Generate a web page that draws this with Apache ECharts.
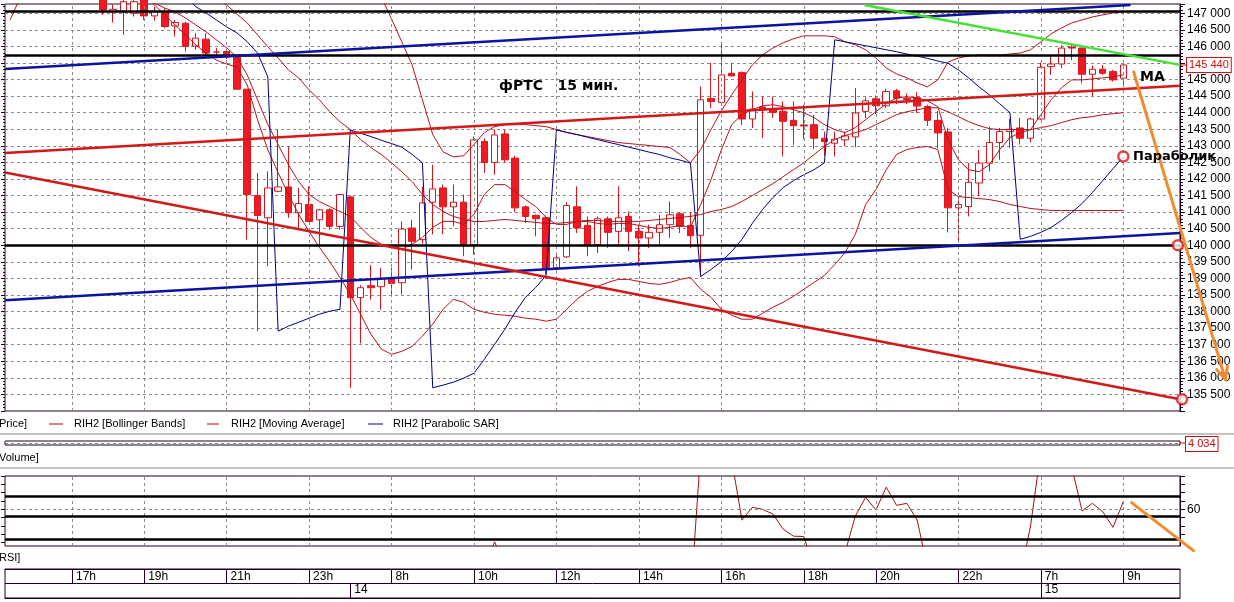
<!DOCTYPE html>
<html><head><meta charset="utf-8">
<script src="https://cdn.jsdelivr.net/npm/echarts@6/dist/echarts.min.js"></script>
<style>html,body{margin:0;padding:0;background:#fff;overflow:hidden}#c{width:1234px;height:602px}</style>
</head><body><div id="c"></div><script>
// ---------- data ----------
const N = 114; // 15-minute slots shown on the time axis
const hourLabels = {6:'17h',13:'19h',21:'21h',29:'23h',37:'8h',45:'10h',53:'12h',61:'14h',69:'16h',77:'18h',84:'20h',92:'22h',100:'7h',108:'9h'};
const dayLabels = {33:'14',100:'15'};

// candles [open, close, low, high], first at slot 9
const candleStart = 9;
const candles = [
[147400,147100,146950,147500],[147050,147120,146720,147250],[147050,147350,146350,147450],[147000,147350,146900,147450],
[147450,146920,146800,147500],[146920,147050,146780,147200],[147020,146600,146550,147150],[146620,146720,146300,146800],
[146700,146000,145850,146750],[146010,146250,145900,146400],[146220,145800,145750,146400],[145830,145830,145750,145950],
[145850,145680,145620,145900],[145690,144710,144700,145720],[144710,141530,140170,144720],[141500,140900,137410,142180],
[140830,141730,139370,142230],[141630,141760,141600,143480],[141760,140980,140830,142980],[140980,141260,140470,141730],
[141230,140720,140700,141780],[140770,141070,139970,141100],[141070,140570,140470,141120],[140570,141530,140470,141550],
[141460,138420,135700,141500],[138420,138720,137040,138800],[138780,138720,138360,139400],[138750,139000,138060,139320],
[139000,138850,138470,139320],[138870,140490,138520,140720],[140520,140120,139270,140770],[140170,141280,140050,141760],
[141300,141700,140330,142430],[141730,141160,140330,141830],[141160,141300,140570,141830],[141300,140020,139670,141530],
[140020,143180,139720,143280],[143130,142500,142180,143230],[142500,143330,142130,143490],[143360,142580,142500,143480],
[142630,141130,141000,142700],[141160,140870,140670,141200],[140900,140800,140270,140930],[140830,139270,139120,140900],
[139320,139620,139150,139700],[139650,141200,139620,141300],[141160,140520,140370,141780],[140600,140020,139670,140870],
[140020,140800,139770,140870],[140800,140390,139920,140870],[140420,140830,139970,141780],[140870,140420,139820,141020],
[140420,140220,139370,140620],[140220,140390,139920,140620],[140390,140620,140020,140920],[140620,140920,140220,141320],
[140950,140570,140370,141000],[140600,140290,139920,141000],[140300,144390,139050,144790],[144430,144340,144140,145500],
[144310,145140,144210,146140],[145190,145110,145100,145500],[145210,143810,143630,145250],[143810,144110,143540,144640],
[144170,144090,143240,144490],[144120,144010,143840,144490],[144040,143740,142680,144340],[143770,143610,143030,144340],
[143630,143600,143210,144240],[143640,143230,142900,143940],[143230,143130,142700,143430],[143080,143200,142680,143430],
[143180,143300,142990,143430],[143270,143990,142960,144740],[144040,144360,143830,144460],[144420,144210,143960,144520],
[144210,144640,144140,144720],[144660,144440,144260,144720],[144440,144400,144260,144580],[144450,144200,143990,144620],
[144190,143770,143600,144240],[143770,143390,142930,144050],[143420,141130,140390,143540],[141130,141230,140120,141480],
[141170,141900,140870,142480],[141880,142480,141480,142880],[142480,143100,142230,143580],[143100,143430,142580,143540],
[143430,143500,142940,143810],[143540,143230,143040,143840],[143230,143810,143110,143850],[143810,145370,143780,145510],
[145390,145470,145140,145740],[145470,145950,145350,146040],[145980,145950,145590,146040],[145950,145160,144890,146010],
[145160,145310,144510,145420],[145310,145190,145140,145440],[145240,144990,144940,145290],[145040,145440,144820,145470]
];

// Bollinger Bands (upper / middle / lower) and Moving Average
const bbUpStart = 36;
const bbUp = [147500,146830,146140,145440,144390,143340,142820,142670,142700,143040,143400,143580,143640,143640,143640,143610,143580,143490,143400,143340,143280,143220,143160,143100,143070,143040,143010,142980,142950,142740,142490,142890,143490,144060,144540,144990,145440,145740,145950,146110,146230,146320,146320,146320,146290,146140,146050,145900,145650,145350,145170,145050,144900,144780,144990,145530,145650,145710,145740,145740,145740,145770,145800,145900,146140,146380,146560,146710,146800,146890,146950,147010,147040];
const bbMidStart = 18;
const bbMid = [147700,147600,147450,147250,146980,146710,146350,145990,145650,145290,145050,144690,144390,144030,143730,143490,143190,142950,142740,142490,142220,141920,141530,141230,141020,140870,140780,140720,140720,140750,140780,140750,140720,140690,140660,140660,140690,140720,140750,140750,140720,140720,140720,140720,140750,140780,140810,140840,140870,140930,141020,141080,141170,141320,141500,141680,141860,142070,142280,142490,142740,142980,143190,143310,143400,143490,143640,143790,143940,144030,144090,144150,144150,144030,143880,143730,143610,143520,143490,143490,143490,143490,143550,143610,143700,143790,143850,143880,143940,143970,144000];
const bbLowStart = 0;
const bbLow = [146800,147500,null,null,null,null,null,null,null,null,null,null,null,147500,147250,146950,146650,146350,146050,145800,145590,145470,145380,144840,143790,142880,142190,141530,140930,140420,139940,139510,139030,138520,137920,137320,136870,136710,136800,136950,137260,137620,138070,138370,138280,138070,137980,137920,137890,137860,137800,137770,137710,137770,138070,138370,138610,138760,138880,138970,138970,138910,138850,138820,138880,138970,139030,138670,138430,138070,137890,137770,137770,137950,138130,138280,138460,138670,138880,139090,139420,139780,140330,141230,141680,142280,142740,142890,142950,142980,142890,141680,141470,141440,141410,141380,141320,141230,141170,141110,141080,141050,141050,141050,141050,141050,141050,141050,141050];
const maStart = 13;
const ma = [147400,147310,147160,147040,146860,146650,146440,146200,145960,145680,145140,144390,143640,143040,142430,141920,141530,141320,141170,141020,140870,140540,140240,140030,139940,139880,140030,140240,140540,140720,140720,140630,140930,141530,141830,141830,141620,141380,141170,140840,140630,140630,140720,140720,140660,140630,140660,140660,140600,140540,140510,140540,140600,140540,141230,141980,142880,143640,143940,144090,144210,144240,144180,144090,144000,143850,143640,143490,143400,143550,143790,144030,144270,144450,144480,144450,144360,144180,143190,142580,142280,142220,142430,142880,143250,143400,143490,143940,144390,144750,144990,144990,145020,145050,145080,145140];
// Parabolic SAR
const sarStart = 17;
const sar = [147550,147200,147010,146800,146590,146410,146140,145800,145080,137410,137560,137680,137800,137920,138010,138070,143480,143380,143280,143170,143070,142960,142740,142490,135700,135780,135870,135990,136140,136560,137010,137470,137980,138430,138730,139090,143480,143410,143340,143260,143190,143110,143040,142960,142890,142810,142740,142640,142570,142480,139060,139270,139510,139810,140180,140660,141080,141440,141740,141950,142130,142280,142490,146200,146140,146080,146020,145960,145900,145840,145770,145710,145640,145560,145490,145290,145050,144780,144540,144270,144000,140180,140270,140390,140540,140750,140990,141260,141590,141950,142310,142670];
// RSI (panel only shows 38..80)
const rsi = [30,28,26,27,25,24,26,29,27,25,24,22,21,23,22,20,19,18,20,17,16,15,12,10,14,18,21,19,22,20,23,15,17,19,21,24,26,30,28,32,31,29,27,33,30,31,25,
40.5,26,22,18,16,12,14,21,19,17,20,18,21,19,16,18,20,22,19,
5,95,92,95,90,53.5,61.2,60,57.2,48.1,43.9,43.7,25,28,30,34,56,67.2,59.6,73.3,62.4,63.6,53.6,25,
22,12,15,20,24,27,30,28,20,50,95,90,88,85.6,59,63.6,58.6,49.2,64.6];
const rsiLevels = [67.6, 55.6, 42.0];
const rsiMid = 60;

// hand-drawn levels and trend lines (slot, price)
const blackLevels = [147050, 145720, 140000];
const blueUpper = [[-0.5,145322],[108.7,147250]];
const blueLower = [[-0.5,138344],[113.5,140374]];
const redUpper  = [[-0.5,142783],[113.5,144810]];
const redLower  = [[-0.5,142199],[113.5,135353]];
const greenLine = [[82.9,147250],[113.5,145443]];
const orangeMain = [[109,145230],[117.9,135960]];
const orangeRsi = [[108.8,64],[114.8,35.2]];
const rings = [[108,142680],[113.3,140000],[113.7,135353]];
const lastPrice = 145440;
const lastVolume = '4 034';

// ---------- helpers ----------
const cats = Array.from({length:N}, (_, i) => String(i));
function pad(start, arr){ const out = new Array(N).fill('-'); arr.forEach((v,k)=>{ if(start+k<N) out[start+k] = (v==null?'-':v); }); return out; }
const candleData = new Array(N).fill(null).map(()=>['-','-','-','-']);
candles.forEach((c,k)=>{ candleData[candleStart+k] = c; });
const fmtPrice = v => { if (v % 500 !== 0 || v <= 135000) return ''; const t = Math.floor(v/1000), r = v % 1000; return t + ' ' + String(r).padStart(3,'0'); };
const FR = '#200020';
const RED = '#b5121b';
const ORANGE = '#f28a2e';
const vGrid = Object.keys(hourLabels).map(k => ({xAxis: String(k)}));
const dashed = {color:'#8a8a8a', width:1, type:[3,3]};
const noZero = {onZero:false, show:false};

const chart = echarts.init(document.getElementById('c'));
const priceAxisBase = {type:'value', gridIndex:0, min:135000, max:147280, interval:500};
const option = {
  animation:false, backgroundColor:'#fff',
  grid:[
    {left:5, right:54, top:4, height:407, show:true, borderColor:FR, borderWidth:1},
    {left:5, right:54, top:441, height:4, show:true, borderColor:FR, borderWidth:1},
    {left:5, right:54, top:476, height:70, show:true, borderColor:FR, borderWidth:1},
    {left:5, right:54, top:569, height:29, show:true, borderColor:FR, borderWidth:1}
  ],
  xAxis:[
    {type:'category', gridIndex:0, data:cats, boundaryGap:true, axisLine:noZero, axisTick:{show:false}, axisLabel:{show:false}, splitLine:{show:false}},
    {type:'value', gridIndex:0, min:-0.5, max:N-0.5, show:false, axisLine:noZero},
    {type:'category', gridIndex:1, data:cats, show:false, axisLine:noZero},
    {type:'category', gridIndex:2, data:cats, boundaryGap:true, axisLine:noZero, axisTick:{show:false}, axisLabel:{show:false}, splitLine:{show:false}},
    {type:'value', gridIndex:2, min:-0.5, max:N-0.5, show:false, axisLine:noZero},
    {type:'category', gridIndex:3, data:cats, position:'top', boundaryGap:true,
      axisLine:{show:true, onZero:false, lineStyle:{color:FR}},
      axisTick:{show:true, inside:true, length:14, alignWithLabel:true, interval:(i)=>hourLabels[i]!==undefined, lineStyle:{color:FR}},
      axisLabel:{show:true, inside:true, interval:(i)=>hourLabels[i]!==undefined, formatter:(v,i)=>hourLabels[i]||'', align:'left', padding:[0,0,0,4], margin:2, color:'#000', fontSize:12, fontFamily:'Liberation Sans'}},
    {type:'category', gridIndex:3, data:cats, position:'bottom', boundaryGap:true,
      axisLine:{show:true, onZero:false, lineStyle:{color:FR}},
      axisTick:{show:true, inside:true, length:15, alignWithLabel:true, interval:(i)=>dayLabels[i]!==undefined, lineStyle:{color:FR}},
      axisLabel:{show:true, inside:true, interval:(i)=>dayLabels[i]!==undefined, formatter:(v,i)=>dayLabels[i]||'', align:'left', padding:[0,0,0,4], margin:2, color:'#000', fontSize:12, fontFamily:'Liberation Sans'}}
  ],
  yAxis:[
    Object.assign({}, priceAxisBase, {position:'right',
      axisLine:{show:true, onZero:false, lineStyle:{color:FR}}, axisTick:{show:true, length:5, lineStyle:{color:FR}},
      minorTick:{show:true, splitNumber:5, length:3, lineStyle:{color:FR}},
      axisLabel:{formatter:fmtPrice, color:'#000', fontSize:12, fontFamily:'Liberation Sans', margin:7, showMaxLabel:false},
      splitLine:{show:true, lineStyle:dashed}}),
    {type:'value', gridIndex:1, min:0, max:2, interval:1, axisLine:noZero, axisTick:{show:false}, axisLabel:{show:false}, splitLine:{show:true, lineStyle:dashed}},
    {type:'value', gridIndex:2, position:'right', min:38, max:80,
      axisLine:{show:true, onZero:false, lineStyle:{color:FR}},
      axisTick:{show:true, length:5, customValues:[40,45,50,55,60,65,70,75,80], lineStyle:{color:FR}},
      axisLabel:{show:true, customValues:[60], color:'#000', fontSize:12, fontFamily:'Liberation Sans', margin:7},
      splitLine:{show:false}},
    {type:'value', gridIndex:3, min:0, max:2, interval:1, axisLine:noZero, axisTick:{show:false}, axisLabel:{show:false}, splitLine:{show:true, lineStyle:{color:FR, width:1}}},
    // left mirror tick strips
    Object.assign({}, priceAxisBase, {position:'left', axisLine:{show:false, onZero:false}, axisTick:{show:true, length:4, lineStyle:{color:FR}},
      minorTick:{show:true, splitNumber:5, length:2, lineStyle:{color:FR}}, axisLabel:{show:false}, splitLine:{show:false}}),
    {type:'value', gridIndex:2, position:'left', min:38, max:80, axisLine:{show:false, onZero:false},
      axisTick:{show:true, length:4, customValues:[40,45,50,55,60,65,70,75,80], lineStyle:{color:FR}}, axisLabel:{show:false}, splitLine:{show:false}}
  ],
  series:[
    {name:'grid-main', type:'line', xAxisIndex:0, yAxisIndex:0, data:[], z:1, silent:true,
      markLine:{silent:true, symbol:'none', label:{show:false}, lineStyle:dashed, data:vGrid}},
    {name:'RIH2 [Price]', type:'candlestick', xAxisIndex:0, yAxisIndex:0, data:candleData, barWidth:7, z:3,
      itemStyle:{color:'#ffffff', color0:'#ee1a22', borderColor:'#d3161e', borderColor0:'#e0161e', borderWidth:1},
      markLine:{silent:true, symbol:'none', label:{show:false}, lineStyle:{color:'#000', width:2.5, type:'solid'},
        data: blackLevels.map(v=>({yAxis:v}))}},
    {name:'BB up', type:'line', xAxisIndex:0, yAxisIndex:0, data:pad(bbUpStart,bbUp), symbol:'none', lineStyle:{color:RED, width:1}, z:4},
    {name:'BB mid', type:'line', xAxisIndex:0, yAxisIndex:0, data:pad(bbMidStart,bbMid), symbol:'none', lineStyle:{color:RED, width:1}, z:4},
    {name:'BB low', type:'line', xAxisIndex:0, yAxisIndex:0, data:pad(bbLowStart,bbLow), symbol:'none', lineStyle:{color:RED, width:1}, z:4},
    {name:'MA', type:'line', xAxisIndex:0, yAxisIndex:0, data:pad(maStart,ma), symbol:'none', lineStyle:{color:RED, width:1}, z:4},
    {name:'SAR', type:'line', xAxisIndex:0, yAxisIndex:0, data:pad(sarStart,sar), symbol:'none', lineStyle:{color:'#000080', width:1}, z:4},
    {type:'line', xAxisIndex:1, yAxisIndex:0, data:blueUpper, symbol:'none', lineStyle:{color:'#0a14a0', width:2.5}, z:5},
    {type:'line', xAxisIndex:1, yAxisIndex:0, data:blueLower, symbol:'none', lineStyle:{color:'#0a14a0', width:2.5}, z:5},
    {type:'line', xAxisIndex:1, yAxisIndex:0, data:redUpper, symbol:'none', lineStyle:{color:'#d21a1a', width:2.5}, z:5},
    {type:'line', xAxisIndex:1, yAxisIndex:0, data:redLower, symbol:'none', lineStyle:{color:'#d21a1a', width:2.5}, z:5},
    {type:'line', xAxisIndex:1, yAxisIndex:0, data:greenLine, symbol:'none', lineStyle:{color:'#44e034', width:2.5}, z:5},
    {type:'scatter', xAxisIndex:1, yAxisIndex:0, data:rings, clip:false, symbol:'circle', symbolSize:10, itemStyle:{color:'#fff', borderColor:'#e0141c', borderWidth:2.5}, z:7},
    {name:'grid-rsi', type:'line', xAxisIndex:3, yAxisIndex:2, data:[], z:1, silent:true,
      markLine:{silent:true, symbol:'none', label:{show:false}, lineStyle:dashed, data:vGrid.concat([{yAxis:rsiMid}])}},
    {name:'RSI', type:'line', xAxisIndex:3, yAxisIndex:2, data:rsi, symbol:'none', lineStyle:{color:'#a31010', width:1}, z:4,
      markLine:{silent:true, symbol:'none', label:{show:false}, lineStyle:{color:'#000', width:2.5, type:'solid'}, data:rsiLevels.map(v=>({yAxis:v}))}}
  ]
};
chart.setOption(option);

// orange hand-drawn arrows (converted from data coords; they run past the plot edge)
const toPx = (xi, yi, pt) => chart.convertToPixel({xAxisIndex:xi, yAxisIndex:yi}, pt);
const p1 = toPx(1, 0, orangeMain[0]);
const p2 = toPx(1, 0, orangeMain[1]);
const r1 = toPx(4, 2, orangeRsi[0]);
const r2 = toPx(4, 2, orangeRsi[1]);
const ang = Math.atan2(p2[1]-p1[1], p2[0]-p1[0]);
const L = 13, A = 0.45;
const head = [[p2[0]-L*Math.cos(ang-A), p2[1]-L*Math.sin(ang-A)], p2, [p2[0]-L*Math.cos(ang+A), p2[1]-L*Math.sin(ang+A)]];
const yLast = chart.convertToPixel({yAxisIndex:0}, lastPrice);
const txt = (x,y,t,extra) => ({type:'text', x:x, y:y, style:Object.assign({text:t, fill:'#000', font:'11px "Liberation Sans"', verticalAlign:'middle'}, extra||{}), z:100});
const seg = (x1,y1,x2,y2,c,w) => ({type:'line', shape:{x1,y1,x2,y2}, style:{stroke:c, lineWidth:w||1}, z:100});
chart.setOption({graphic:[
  {type:'line', shape:{x1:p1[0], y1:p1[1], x2:p2[0], y2:p2[1]}, style:{stroke:ORANGE, lineWidth:3, lineCap:'round'}, z:90},
  {type:'polyline', shape:{points:head}, style:{stroke:ORANGE, lineWidth:3, fill:null, lineCap:'round'}, z:90},
  {type:'line', shape:{x1:r1[0], y1:r1[1], x2:r2[0], y2:r2[1]}, style:{stroke:ORANGE, lineWidth:3, lineCap:'round'}, z:90},
  txt(499, 86, 'фРТС   15 мин.', {font:'bold 14px "DejaVu Sans"'}),
  txt(1140, 77, 'MA', {font:'bold 14px "DejaVu Sans"'}),
  txt(1133, 157, 'Параболик', {font:'bold 13px "DejaVu Sans"'}),
  seg(1180, yLast, 1187, yLast, '#d01010'),
  txt(1187, yLast, '145 440', {fill:'#d01010', font:'11px "Liberation Sans"', backgroundColor:'#fff', borderColor:'#d01010', borderWidth:1, padding:[2,2,1,2]}),
  seg(1180, 443, 1186, 443, '#d01010'),
  txt(1186, 444, lastVolume, {fill:'#d01010', font:'11px "Liberation Sans"', backgroundColor:'#fff', borderColor:'#d01010', borderWidth:1, padding:[2,2,1,2]}),
  txt(-1, 424, 'Price]'),
  seg(49, 424, 63, 424, '#c00000'),
  txt(74, 424, 'RIH2 [Bollinger Bands]'),
  seg(207, 424, 219, 424, '#c00000'),
  txt(231, 424, 'RIH2 [Moving Average]'),
  seg(368, 424, 383, 424, '#000080'),
  txt(393, 424, 'RIH2 [Parabolic SAR]'),
  txt(-1, 458, 'Volume]'),
  txt(-1, 558, 'RSI]'),
  seg(0, 434, 1234, 434, '#c4c4c4', 2),
  seg(0, 468, 1234, 468, '#c4c4c4', 2)
]});
</script></body></html>
